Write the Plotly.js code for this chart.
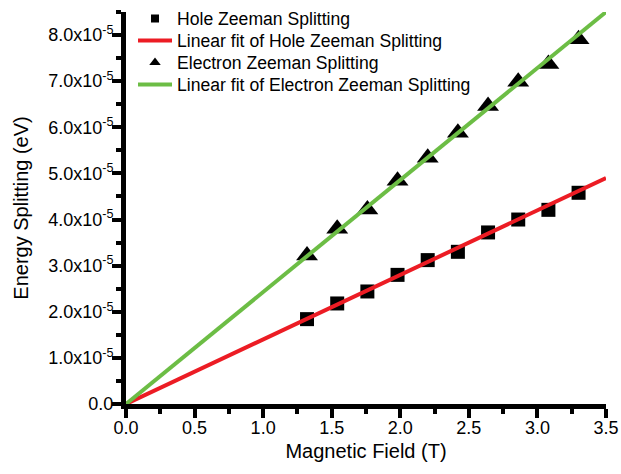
<!DOCTYPE html>
<html>
<head>
<meta charset="utf-8">
<script src="https://cdn.plot.ly/plotly-3.0.1.min.js"></script>
<style>
  html, body { margin: 0; padding: 0; background: #ffffff; }
  #chart { width: 621px; height: 474px; }
</style>
</head>
<body>
<div id="chart"></div>
<script>
// Magnetic field (T)
var fieldValues = [1.32, 1.54, 1.76, 1.98, 2.20, 2.42, 2.64, 2.86, 3.08, 3.30];
// Hole Zeeman splitting (eV)
var holeSplitting = [1.84e-5, 2.18e-5, 2.44e-5, 2.80e-5, 3.12e-5, 3.30e-5, 3.72e-5, 4.00e-5, 4.21e-5, 4.58e-5];
// Electron Zeeman splitting (eV)
var electronSplitting = [3.22e-5, 3.80e-5, 4.22e-5, 4.84e-5, 5.34e-5, 5.88e-5, 6.46e-5, 6.99e-5, 7.37e-5, 7.91e-5];
// Linear fits (end points)
var fitField = [0, 3.5];
var holeFit = [0, 4.90e-5];
var electronFit = [0, 8.50e-5];
// Y tick labels
var yTickValues = [0, 1e-5, 2e-5, 3e-5, 4e-5, 5e-5, 6e-5, 7e-5, 8e-5];
var yTickLabels = ['0.0', '1.0x10<sup>-5</sup>', '2.0x10<sup>-5</sup>', '3.0x10<sup>-5</sup>',
  '4.0x10<sup>-5</sup>', '5.0x10<sup>-5</sup>', '6.0x10<sup>-5</sup>', '7.0x10<sup>-5</sup>',
  '8.0x10<sup>-5</sup>'];
var seriesNames = ['Hole Zeeman Splitting', 'Linear fit of Hole Zeeman Splitting',
  'Electron Zeeman Splitting', 'Linear fit of Electron Zeeman Splitting'];

var FONT = 'Arial, "Liberation Sans", Helvetica, sans-serif';
var RED = '#ec1c24';
var GREEN = '#6cbd45';

var traces = [
  { x: fieldValues, y: holeSplitting, type: 'scatter', mode: 'markers', showlegend: false,
    marker: { symbol: 'square', size: 14, color: '#000000' }, cliponaxis: false },
  { x: fieldValues, y: electronSplitting, type: 'scatter', mode: 'markers', showlegend: false,
    marker: { symbol: 'triangle-up', size: 19, color: '#000000' }, cliponaxis: false },
  { x: fitField, y: holeFit, type: 'scatter', mode: 'lines', name: seriesNames[1], legend: 'legend2',
    line: { color: RED, width: 4 } },
  { x: fitField, y: electronFit, type: 'scatter', mode: 'lines', name: seriesNames[3], legend: 'legend4',
    line: { color: GREEN, width: 4 } },
  { x: [null], y: [null], type: 'scatter', mode: 'markers', name: seriesNames[0], legend: 'legend',
    marker: { symbol: 'square', size: 8, color: '#000000' } },
  { x: [null], y: [null], type: 'scatter', mode: 'markers', name: seriesNames[2], legend: 'legend3',
    marker: { symbol: 'triangle-up', size: 10, color: '#000000' } }
];

function legendAt(yPaper) {
  return {
    x: 0.0146, y: yPaper, xanchor: 'left', yanchor: 'middle', yref: 'paper',
    bgcolor: 'rgba(0,0,0,0)', borderwidth: 0,
    font: { family: FONT, size: 17.6, color: '#000000' },
    itemwidth: 34
  };
}

var layout = {
  width: 621, height: 474,
  margin: { l: 126, r: 15, t: 12, b: 70, autoexpand: false },
  paper_bgcolor: '#ffffff', plot_bgcolor: '#ffffff',
  font: { family: FONT, color: '#000000', size: 18 },
  showlegend: true,
  legend: legendAt(0.9834),
  legend2: legendAt(0.9273),
  legend3: legendAt(0.8712),
  legend4: legendAt(0.8151),
  xaxis: {
    range: [0, 3.5], tickmode: 'linear', tick0: 0, dtick: 0.5, tickformat: '.1f',
    showgrid: false, zeroline: false, showline: true, linecolor: '#000000', linewidth: 5,
    ticks: 'outside', ticklen: 9, tickwidth: 4, tickcolor: '#000000',
    ticklabelstandoff: -6,
    minor: { tick0: 0, dtick: 0.25, ticks: 'outside', ticklen: 5, tickwidth: 4, tickcolor: '#000000', showgrid: false },
    tickfont: { family: FONT, size: 18, color: '#000000' },
    title: { text: 'Magnetic Field (T)', standoff: 9, font: { family: FONT, size: 20, color: '#000000' } }
  },
  yaxis: {
    range: [0, 8.5e-5], tickmode: 'array', tickvals: yTickValues, ticktext: yTickLabels,
    showgrid: false, zeroline: false, showline: true, linecolor: '#000000', linewidth: 5,
    ticks: 'outside', ticklen: 9, tickwidth: 4, tickcolor: '#000000',
    ticklabelstandoff: -5,
    minor: { tickmode: 'linear', tick0: 0, dtick: 0.5e-5, ticks: 'outside', ticklen: 5, tickwidth: 4, tickcolor: '#000000', showgrid: false },
    tickfont: { family: FONT, size: 18, color: '#000000' },
    title: { text: 'Energy Splitting (eV)', standoff: 16, font: { family: FONT, size: 20, color: '#000000' } }
  }
};

Plotly.newPlot('chart', traces, layout, { displayModeBar: false, staticPlot: true });
</script>
</body>
</html>
